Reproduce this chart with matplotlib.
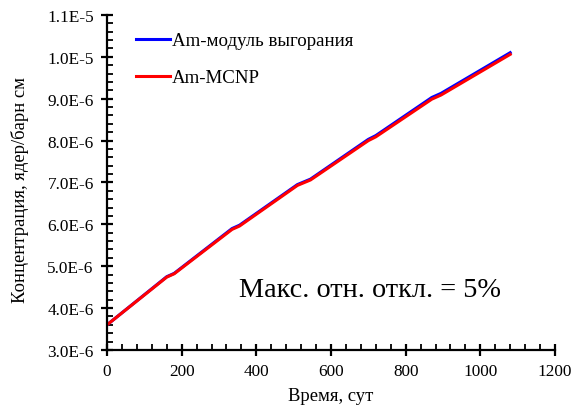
import matplotlib
matplotlib.use("Agg")
import matplotlib.pyplot as plt
from matplotlib.ticker import MultipleLocator, AutoMinorLocator, FuncFormatter

# Am concentration vs time (days)
time_blue = [0, 160, 180, 335, 355, 510, 545, 700, 720, 870, 895, 1080]
conc_blue = [3.60e-6, 4.75e-6, 4.83e-6, 5.90e-6, 5.98e-6, 6.95e-6, 7.08e-6,
             8.03e-6, 8.12e-6, 9.03e-6, 9.13e-6, 10.10e-6]
time_red = [0, 160, 180, 335, 355, 510, 545, 700, 720, 870, 895, 1080]
conc_red = [3.60e-6, 4.74e-6, 4.82e-6, 5.88e-6, 5.96e-6, 6.93e-6, 7.06e-6,
            8.00e-6, 8.09e-6, 8.99e-6, 9.09e-6, 10.06e-6]

label_blue = 'Am-модуль выгорания'
label_red = 'Am-MCNP'
note = 'Макс. отн. откл. = 5%'

plt.rcParams['font.family'] = ['Liberation Serif', 'DejaVu Serif']

fig = plt.figure(figsize=(5.74, 4.06), dpi=100)
ax = fig.add_axes([0.1864, 0.1355, 0.7805, 0.8251])

ax.plot(time_blue, conc_blue, color='#0000ff', lw=2.2, label=label_blue)
ax.plot(time_red, conc_red, color='#ff0000', lw=2.2, label=label_red)

ax.set_xlim(0, 1200)
ax.set_ylim(3.0e-6, 1.1e-5)
ax.xaxis.set_major_locator(MultipleLocator(200))
ax.xaxis.set_minor_locator(AutoMinorLocator(5))
ax.yaxis.set_major_locator(MultipleLocator(1e-6))
ax.yaxis.set_minor_locator(AutoMinorLocator(5))


def sci(v, pos):
    mant, exp = f'{v:.1E}'.split('E')
    return f'{mant}E{int(exp)}'


ax.yaxis.set_major_formatter(FuncFormatter(sci))

for side in ('top', 'right'):
    ax.spines[side].set_visible(False)
for side in ('left', 'bottom'):
    ax.spines[side].set_linewidth(1.6)

ax.tick_params(which='major', direction='inout', length=9, width=1.6,
               labelsize=12.4, pad=5)
ax.tick_params(which='minor', direction='in', length=4, width=1.3)

ax.set_xlabel('Время, сут', fontsize=13.4)
ax.set_ylabel('Концентрация, ядер/барн см', fontsize=13.4)
ax.xaxis.set_label_coords(0.5, -0.109)
ax.yaxis.set_label_coords(-0.175, 0.48)

ax.legend(loc='upper left', bbox_to_anchor=(0.027, 1.0), frameon=False,
          fontsize=13.6, handlelength=1.8, handletextpad=0.1,
          labelspacing=1.06)

ax.text(0.587, 0.182, note, transform=ax.transAxes, fontsize=20.3,
        ha='center', va='center')

fig.savefig('out.png', dpi=100)
